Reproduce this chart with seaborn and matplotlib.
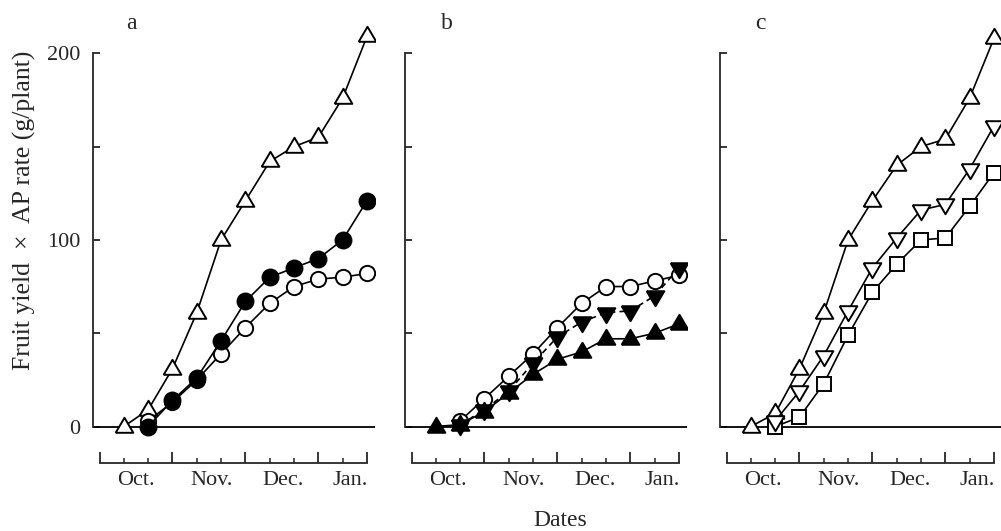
import numpy as np
import pandas as pd
import matplotlib
matplotlib.use("Agg")
import matplotlib.pyplot as plt
import seaborn as sns

# ---------------- data ----------------
# x positions: 10-day periods counted from 1 Oct (0 = 1 Oct, 3 = 1 Nov, ...)
period = [1, 2, 3, 4, 5, 6, 7, 8, 9, 10, 11]
period2 = [2, 3, 4, 5, 6, 7, 8, 9, 10, 11]

month_ticks = [0, 3, 6, 9, 11]
decade_ticks = list(range(12))
month_label_pos = [1.5, 4.6, 7.55, 10.3]
month_labels = ["Oct.", "Nov.", "Dec.", "Jan."]

# panel a
a_open_tri = [0, 9, 31, 61, 100, 121, 142, 150, 155, 176, 209]
a_open_circ = [3, 13, 25, 39, 53, 66, 75, 79, 80, 82]
a_fill_circ = [0, 14, 26, 46, 67, 80, 85, 90, 100, 121]

# panel b
b_fill_tri_up = [0, 1, 8, 18, 28, 36, 40, 47, 47, 50, 55]
b_open_circ = [3, 15, 27, 39, 53, 66, 75, 75, 78, 81]
b_fill_tri_down = [1, 9, 19, 34, 48, 56, 61, 62, 70, 85]

# panel c
c_open_tri_up = [0, 7, 31, 61, 100, 121, 140, 150, 154, 176, 208]
c_open_tri_down = [3, 19, 38, 62, 85, 101, 116, 119, 138, 161]
c_open_square = [0, 5, 23, 49, 72, 87, 100, 101, 118, 136]

yticks = [0, 50, 100, 150, 200]
ytick_labels = ["0", "", "100", "", "200"]

# ---------------- style ----------------
sns.set_style("ticks")
plt.rcParams["font.family"] = ["Liberation Serif", "DejaVu Serif"]

UP = [(-1, -0.6), (1, -0.6), (0, 1.1), (-1, -0.6)]
DOWN = [(-1, 0.6), (1, 0.6), (0, -1.1), (-1, 0.6)]

fig = plt.figure(figsize=(10.01, 5.31), dpi=100)

W, H = 1001, 531
ax_w = 282 / W
ax_bottom = (H - 448.9) / H
ax_h = 436.7 / H
lefts = [93 / W, 405 / W, 720 / W]
axes = [fig.add_axes([l, ax_bottom, ax_w, ax_h]) for l in lefts]

LW = 1.2
MEW = 1.4


def series(ax, x, y, marker, ms, filled, dashed=False, z=3):
    df = pd.DataFrame({"x": x, "y": y})
    sns.lineplot(
        data=df, x="x", y="y", ax=ax, color="black", lw=LW,
        marker=marker, markersize=ms,
        markerfacecolor="black" if filled else "white",
        markeredgecolor="black", markeredgewidth=MEW,
        linestyle=(0, (3.5, 2.5)) if dashed else "-",
        zorder=z, errorbar=None, estimator=None, sort=False,
    )


# panel a
series(axes[0], period, a_open_tri, UP, 14, False)
series(axes[0], period2, a_open_circ, "o", 11, False, z=4)
series(axes[0], period2, a_fill_circ, "o", 11.5, True, z=5)

# panel b
series(axes[1], period2, b_open_circ, "o", 11, False, z=3)
series(axes[1], period, b_fill_tri_up, UP, 14, True, z=4)
series(axes[1], period2, b_fill_tri_down, DOWN, 14, True, dashed=True, z=5)

# panel c
series(axes[2], period, c_open_tri_up, UP, 14, False, z=3)
series(axes[2], period2, c_open_square, "s", 10, False, z=4)
series(axes[2], period2, c_open_tri_down, DOWN, 14, False, z=5)

panel_letters = ["a", "b", "c"]
letter_x = [0.135, 0.149, 0.142]

for i, ax in enumerate(axes):
    ax.set_xlim(-0.27, 11.33)
    ax.set_ylim(-12, 222)
    ax.axhline(0, color="black", lw=1.3, zorder=1)
    ax.spines["top"].set_visible(False)
    ax.spines["right"].set_visible(False)
    ax.spines["left"].set_bounds(0, 200)
    ax.spines["left"].set_linewidth(1.3)
    ax.spines["bottom"].set_position(("axes", -0.0316))
    ax.spines["bottom"].set_bounds(0, 11)
    ax.spines["bottom"].set_linewidth(1.3)

    ax.set_yticks(yticks)
    if i == 0:
        ax.set_yticklabels(ytick_labels, fontsize=16)
    else:
        ax.set_yticklabels([])
    ax.tick_params(axis="y", direction="in", length=5, width=1.3, pad=9)

    ax.set_xticks(month_ticks)
    ax.set_xticks(decade_ticks, minor=True)
    ax.tick_params(axis="x", which="major", direction="in", length=8, width=1.3,
                   labelbottom=False)
    ax.tick_params(axis="x", which="minor", direction="in", length=3.6, width=1.1)
    ax.set_xlabel("")
    ax.set_ylabel("")

    sec = ax.secondary_xaxis(-0.0316)
    sec.set_xticks(month_label_pos)
    sec.set_xticklabels(month_labels, fontsize=16)
    sec.tick_params(length=0, pad=6)
    sec.spines["bottom"].set_visible(False)

    ax.text(letter_x[i], 0.973, panel_letters[i], transform=ax.transAxes,
            ha="center", va="center", fontsize=17)

fig.text(24 / W, 1 - 210 / H, "Fruit yield  \u00d7  AP rate (g/plant)",
         rotation=90, ha="center", va="center", fontsize=18.5)
fig.text(560 / W, 1 - 520 / H, "Dates", ha="center", va="center", fontsize=17)

fig.savefig("out.png", dpi=100)
